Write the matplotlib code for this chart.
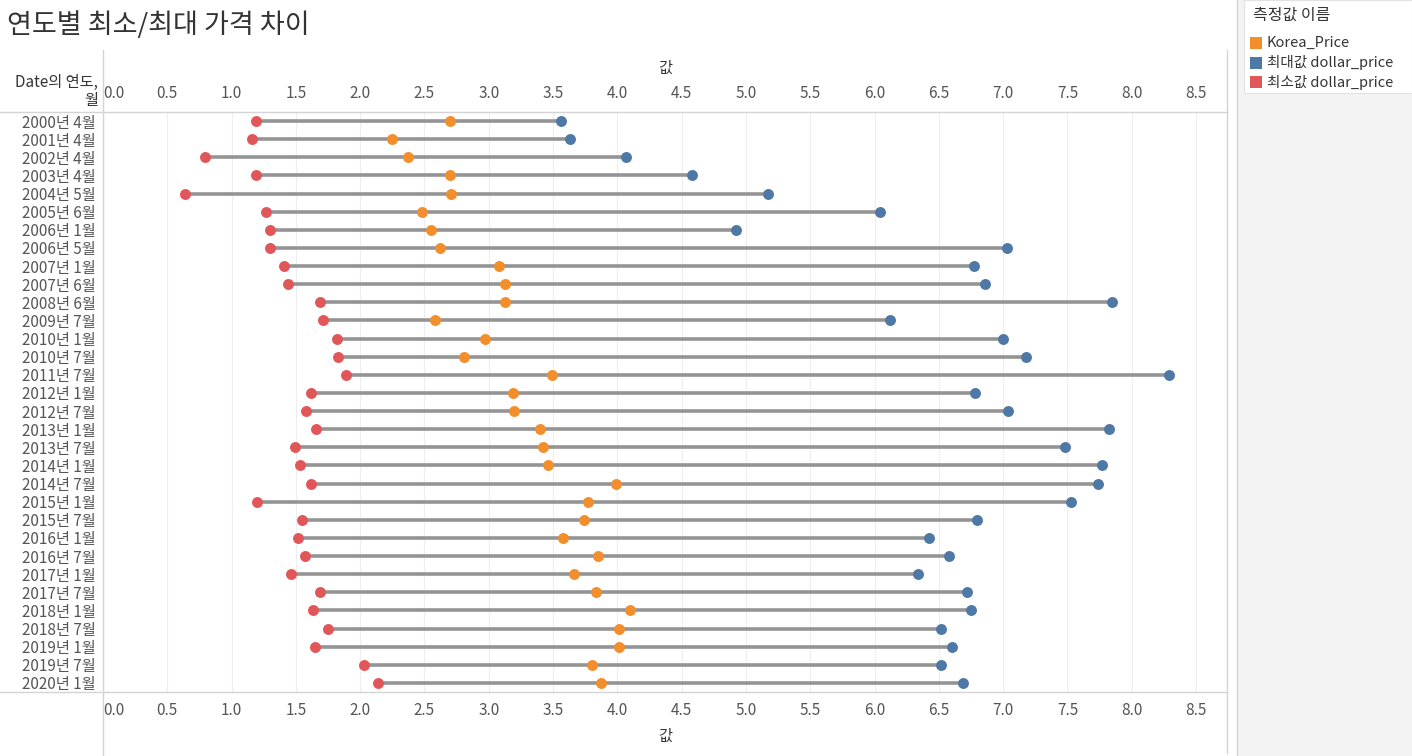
import matplotlib
matplotlib.use("Agg")
import matplotlib.pyplot as plt
from matplotlib.lines import Line2D
from matplotlib.patches import Rectangle

plt.rcParams["font.family"] = ["Noto Sans CJK KR", "DejaVu Sans"]

# ------------------ data ------------------
periods = [
    "2000년 4월", "2001년 4월", "2002년 4월", "2003년 4월", "2004년 5월",
    "2005년 6월", "2006년 1월", "2006년 5월", "2007년 1월", "2007년 6월",
    "2008년 6월", "2009년 7월", "2010년 1월", "2010년 7월", "2011년 7월",
    "2012년 1월", "2012년 7월", "2013년 1월", "2013년 7월", "2014년 1월",
    "2014년 7월", "2015년 1월", "2015년 7월", "2016년 1월", "2016년 7월",
    "2017년 1월", "2017년 7월", "2018년 1월", "2018년 7월", "2019년 1월",
    "2019년 7월", "2020년 1월",
]
min_dollar = [
    1.19, 1.16, 0.79, 1.19, 0.64, 1.27, 1.30, 1.30, 1.41, 1.44,
    1.69, 1.71, 1.82, 1.83, 1.89, 1.62, 1.58, 1.66, 1.49, 1.53,
    1.62, 1.20, 1.55, 1.52, 1.57, 1.46, 1.69, 1.63, 1.75, 1.65,
    2.03, 2.14,
]
korea_price = [
    2.70, 2.25, 2.37, 2.70, 2.71, 2.48, 2.55, 2.62, 3.08, 3.13,
    3.13, 2.58, 2.97, 2.81, 3.49, 3.19, 3.20, 3.40, 3.42, 3.46,
    3.99, 3.77, 3.74, 3.58, 3.85, 3.66, 3.83, 4.10, 4.01, 4.01,
    3.80, 3.87,
]
max_dollar = [
    3.56, 3.63, 4.07, 4.58, 5.17, 6.04, 4.92, 7.03, 6.77, 6.86,
    7.85, 6.12, 7.00, 7.18, 8.29, 6.78, 7.04, 7.82, 7.48, 7.77,
    7.74, 7.53, 6.80, 6.42, 6.58, 6.34, 6.72, 6.75, 6.52, 6.60,
    6.52, 6.69,
]
x_ticks = [0.0, 0.5, 1.0, 1.5, 2.0, 2.5, 3.0, 3.5, 4.0, 4.5, 5.0, 5.5, 6.0, 6.5, 7.0, 7.5, 8.0, 8.5]

legend_names = ["Korea_Price", "최대값 dollar_price", "최소값 dollar_price"]
ORANGE, BLUE, RED = "#F28E2B", "#4E79A7", "#E15759"
LINE_GRAY = "#949494"
TEXT_GRAY = "#555555"
BORDER = "#d4d4d4"

W, H = 1412, 756


def fx(px):
    return px / W


def fy(py):
    return 1 - py / H


fig = plt.figure(figsize=(W / 100, H / 100), dpi=100)
fig.patch.set_facecolor("white")

# legend side panel (gray) + white legend card
fig.add_artist(Rectangle((fx(1237), 0), 1 - fx(1237), 1, transform=fig.transFigure,
                         facecolor="#f3f3f3", edgecolor="none", zorder=0))
fig.add_artist(Line2D([fx(1237), fx(1237)], [0, 1], color=BORDER, lw=1))
fig.add_artist(Rectangle((fx(1244), fy(93)), 1 - fx(1244), 93 / H, transform=fig.transFigure,
                         facecolor="white", edgecolor="#e2e2e2", lw=0.8, zorder=1))

# ------------------ main plot ------------------
ax = fig.add_axes([fx(103), fy(692), (1226 - 103) / W, (692 - 112) / H])
ypos = list(range(len(periods)))

ax.hlines(ypos, min_dollar, max_dollar, color=LINE_GRAY, lw=2.6, zorder=2)
ax.scatter(min_dollar, ypos, s=62, color=RED, zorder=3, linewidths=0)
ax.scatter(korea_price, ypos, s=62, color=ORANGE, zorder=3, linewidths=0)
ax.scatter(max_dollar, ypos, s=62, color=BLUE, zorder=3, linewidths=0)

ax.set_xlim(0, 8.733)
ax.set_ylim(len(periods) - 0.5, -0.5)
ax.set_xticks(x_ticks)
ax.set_xticklabels([f"{t:.1f}" for t in x_ticks])
ax.set_yticks(ypos)
ax.set_yticklabels(periods)
ax.tick_params(axis="x", top=True, labeltop=True, bottom=True, labelbottom=True,
               length=0, labelsize=11, labelcolor=TEXT_GRAY, pad=7)
ax.tick_params(axis="y", length=0, labelsize=11, labelcolor=TEXT_GRAY, pad=5)
# first tick label sits right of the edge, like the reference
ax.xaxis.get_major_ticks()[0].label1.set_horizontalalignment("left")
ax.xaxis.get_major_ticks()[0].label2.set_horizontalalignment("left")

ax.grid(axis="x", color="#eeeeee", lw=0.8, zorder=0)
ax.set_axisbelow(True)
for sp in ax.spines.values():
    sp.set_visible(False)

# borders around the table (header/footer lines, left and right edges)
fig.add_artist(Line2D([0, fx(1227)], [fy(112), fy(112)], color=BORDER, lw=1))
fig.add_artist(Line2D([0, fx(1227)], [fy(692), fy(692)], color=BORDER, lw=1))
fig.add_artist(Line2D([fx(103), fx(103)], [fy(50), 0], color=BORDER, lw=1))
fig.add_artist(Line2D([fx(1227), fx(1227)], [fy(50), fy(753)], color=BORDER, lw=1))

# axis titles
fig.text(fx(665), fy(68), "값", ha="center", va="center", fontsize=11, color="#333333")
fig.text(fx(665), fy(736), "값", ha="center", va="center", fontsize=11, color="#333333")
fig.text(fx(98), fy(82), "Date의 연도,", ha="right", va="center", fontsize=11, color="#333333")
fig.text(fx(98), fy(101), "월", ha="right", va="center", fontsize=11, color="#333333")

# chart title
fig.text(fx(7), fy(25), "연도별 최소/최대 가격 차이", ha="left", va="center",
         fontsize=19.5, color="#333333")

# legend
fig.text(fx(1253), fy(15), "측정값 이름", ha="left", va="center", fontsize=11.5, color="#333333")
for i, (name, col) in enumerate(zip(legend_names, [ORANGE, BLUE, RED])):
    yc = 43 + i * 19.5
    fig.add_artist(Rectangle((fx(1250), fy(yc + 6)), 12 / W, 12 / H,
                             transform=fig.transFigure, facecolor=col, edgecolor="none", zorder=2))
    fig.text(fx(1267), fy(yc), name, ha="left", va="center", fontsize=10.5, color="#333333")

plt.savefig("out.png", dpi=100)
plt.close()
